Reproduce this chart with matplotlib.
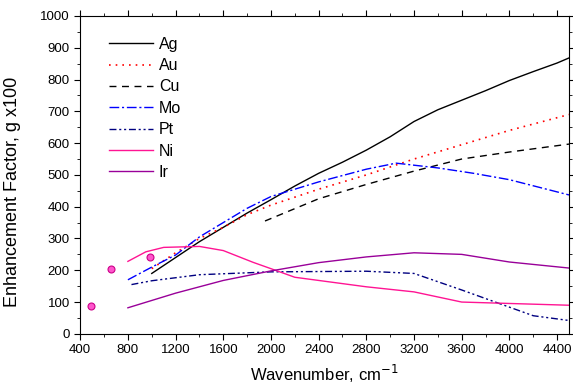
import matplotlib
matplotlib.use("Agg")
import matplotlib.pyplot as plt
from matplotlib.ticker import MultipleLocator

plt.rcParams['font.family'] = ['Liberation Sans', 'DejaVu Sans']

# data
ag_x = [1000, 1200, 1400, 1600, 1800, 2000, 2200, 2400, 2600, 2800, 3000, 3200, 3400, 3600, 3800, 4000, 4200, 4400, 4500]
ag_y = [190, 240, 290, 335, 380, 422, 465, 505, 540, 578, 620, 668, 705, 735, 765, 797, 825, 852, 868]

au_x = [1000, 1200, 1400, 1600, 1800, 2000, 2400, 2800, 3200, 3600, 4000, 4500]
au_y = [205, 255, 300, 335, 375, 405, 455, 500, 550, 595, 640, 690]

cu_x = [1950, 2400, 2800, 3200, 3600, 4000, 4500]
cu_y = [355, 425, 470, 512, 550, 572, 597]

mo_x = [800, 1000, 1200, 1400, 1600, 1800, 2000, 2400, 2800, 3050, 3400, 3700, 4000, 4500]
mo_y = [170, 210, 248, 305, 350, 395, 432, 478, 518, 537, 522, 505, 485, 437]

pt_x = [830, 1000, 1400, 2000, 2400, 2800, 3200, 3600, 4200, 4500]
pt_y = [155, 167, 186, 195, 196, 197, 190, 138, 57, 42]

ni_x = [800, 950, 1100, 1300, 1400, 1600, 1850, 2000, 2200, 2800, 3200, 3600, 4500]
ni_y = [228, 258, 272, 274, 275, 262, 225, 205, 178, 148, 132, 100, 90]

ir_x = [800, 1200, 1600, 2000, 2400, 2800, 3200, 3600, 4000, 4500]
ir_y = [82, 128, 168, 198, 224, 242, 255, 250, 226, 207]

ni_dots_x = [490, 660, 985]
ni_dots_y = [88, 204, 242]

fig = plt.figure(figsize=(5.73, 3.9), dpi=100)
ax = fig.add_axes([0.14, 0.144, 0.853, 0.815])

ax.plot(ag_x, ag_y, color='black', lw=1.0, ls='-', label='Ag')
ax.plot(au_x, au_y, color='red', lw=1.2, ls=(0, (1, 3)), label='Au')
ax.plot(cu_x, cu_y, color='black', lw=1.0, ls=(0, (5, 4)), label='Cu')
ax.plot(mo_x, mo_y, color='#0000ff', lw=1.0, ls=(0, (7, 2, 1.5, 2)), label='Mo')
ax.plot(pt_x, pt_y, color='#000080', lw=1.0, ls=(0, (5, 2, 1.5, 2, 1.5, 2)), label='Pt')
ax.plot(ni_x, ni_y, color='#ff1493', lw=1.0, label='Ni')
ax.plot(ir_x, ir_y, color='#990099', lw=1.0, label='Ir')
ax.plot(ni_dots_x, ni_dots_y, 'o', ms=5, mfc='#ff55cc', mec='#cc0088', mew=0.8)

ax.set_xlim(400, 4500)
ax.set_ylim(0, 1000)
ax.xaxis.set_major_locator(MultipleLocator(400))
ax.xaxis.set_minor_locator(MultipleLocator(200))
ax.yaxis.set_major_locator(MultipleLocator(100))
ax.yaxis.set_minor_locator(MultipleLocator(50))
ax.tick_params(which='both', direction='out', top=True, right=True, labelsize=9.5)
ax.tick_params(which='major', length=4)
ax.tick_params(which='minor', length=2.5)

ax.set_xlabel('Wavenumber, cm$^{-1}$', fontsize=12, labelpad=5)
fig.text(13 / 573, 1 - 192 / 390, 'Enhancement Factor, g x100', rotation=90,
         ha='center', va='center', fontsize=13)

ax.legend(loc='upper left', frameon=False, fontsize=11.5, handlelength=2.75,
          handletextpad=0.35, labelspacing=0.4, bbox_to_anchor=(0.03, 0.98))

fig.savefig('out.png', dpi=100)
